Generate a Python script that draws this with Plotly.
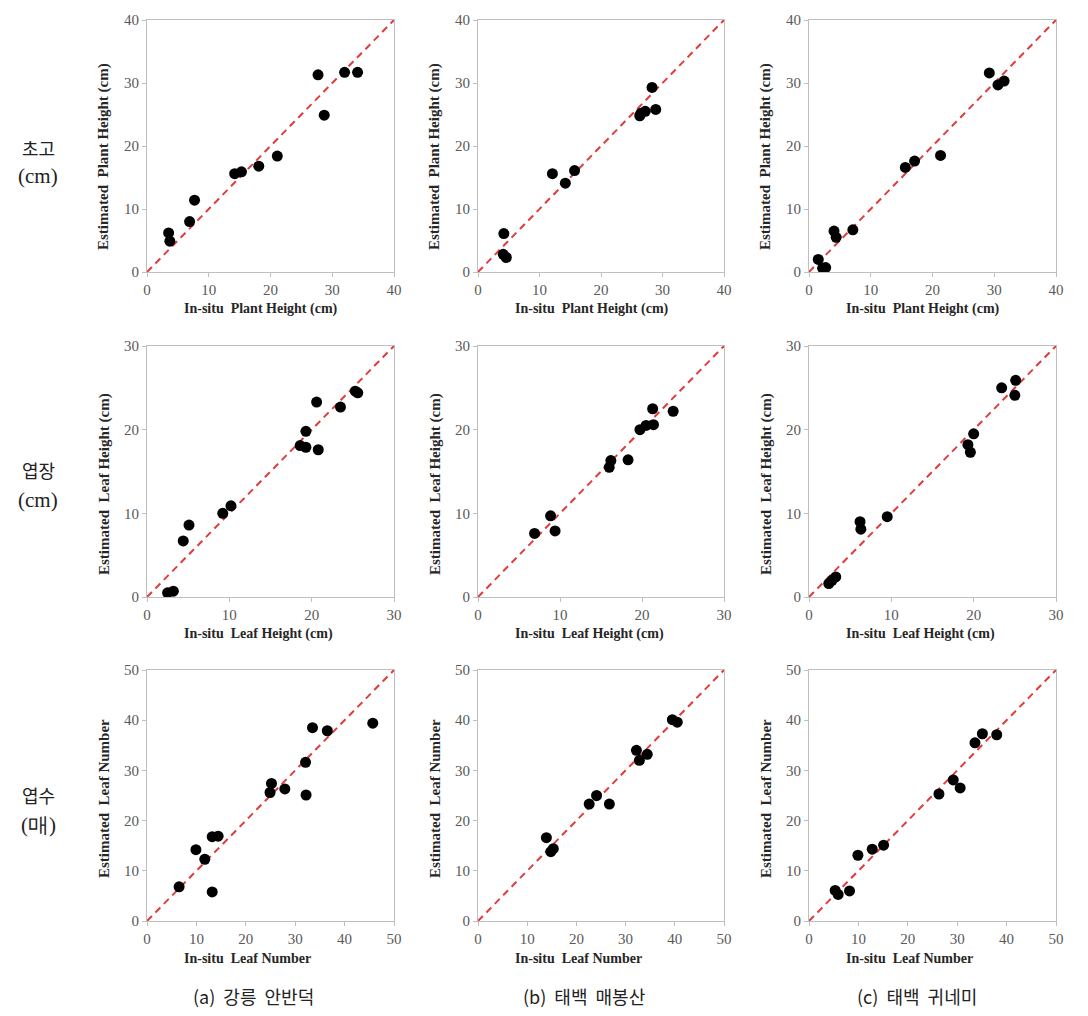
import plotly.graph_objects as go

W, H = 1088, 1016
OFF = 8  # page body margin offset

# ---------------- data ----------------
# Row 1: plant height (cm)
ph_a_x = [3.5, 3.7, 6.9, 7.7, 14.2, 15.3, 18.1, 21.1, 27.7, 28.7, 32.0, 34.1]
ph_a_y = [6.2, 4.9, 8.0, 11.4, 15.6, 15.9, 16.8, 18.4, 31.3, 24.9, 31.7, 31.7]
ph_b_x = [4.2, 4.1, 4.6, 12.1, 14.2, 15.7, 26.3, 27.2, 28.3, 28.9, 26.5]
ph_b_y = [6.1, 2.8, 2.3, 15.6, 14.1, 16.1, 24.8, 25.5, 29.3, 25.8, 25.2]
ph_c_x = [1.5, 2.2, 2.7, 4.05, 4.4, 7.1, 15.6, 17.1, 21.3, 29.2, 30.6, 31.6]
ph_c_y = [2.0, 0.6, 0.7, 6.5, 5.5, 6.7, 16.6, 17.6, 18.5, 31.6, 29.7, 30.3]

# Row 2: leaf height (cm)
lh_a_x = [2.5, 3.2, 4.4, 5.1, 9.2, 10.2, 18.6, 19.3, 19.3, 20.6, 20.8, 23.5, 25.3, 25.6]
lh_a_y = [0.5, 0.7, 6.7, 8.6, 10.0, 10.9, 18.1, 19.8, 17.9, 23.3, 17.6, 22.7, 24.6, 24.4]
lh_b_x = [6.9, 8.85, 9.4, 16.0, 16.2, 18.3, 19.75, 20.5, 21.3, 21.4, 23.8]
lh_b_y = [7.6, 9.7, 7.9, 15.5, 16.3, 16.4, 20.0, 20.5, 22.5, 20.6, 22.2]
lh_c_x = [2.4, 2.8, 3.25, 6.2, 6.3, 9.5, 19.3, 19.6, 20.0, 23.4, 25.1, 25.0]
lh_c_y = [1.6, 2.0, 2.4, 9.0, 8.1, 9.6, 18.2, 17.3, 19.5, 25.0, 25.9, 24.1]

# Row 3: leaf number
ln_a_x = [6.5, 9.9, 11.7, 13.2, 14.4, 13.2, 25.2, 24.9, 27.9, 32.1, 32.2, 33.5, 36.5, 45.7]
ln_a_y = [6.8, 14.2, 12.3, 16.8, 16.9, 5.8, 27.4, 25.6, 26.3, 31.6, 25.1, 38.5, 37.9, 39.4]
ln_b_x = [13.9, 14.8, 15.3, 22.6, 24.1, 26.7, 32.2, 32.8, 34.4, 39.5, 40.5]
ln_b_y = [16.6, 13.8, 14.4, 23.3, 25.0, 23.3, 34.0, 32.0, 33.2, 40.1, 39.6]
ln_c_x = [5.3, 5.9, 8.2, 9.9, 12.8, 15.1, 26.3, 29.2, 30.6, 33.6, 35.1, 38.0]
ln_c_y = [6.1, 5.3, 6.0, 13.1, 14.3, 15.1, 25.3, 28.1, 26.5, 35.5, 37.3, 37.1]

axis_max = [40, 30, 50]
x_titles = ["In-situ  Plant Height (cm)", "In-situ  Leaf Height (cm)", "In-situ  Leaf Number"]
y_titles = ["Estimated  Plant Height (cm)", "Estimated  Leaf Height (cm)", "Estimated  Leaf Number"]
row_labels = [["초고", "(cm)"], ["엽장", "(cm)"], ["엽수", "(매)"]]
col_labels = ["(a) 강릉 안반덕", "(b) 태백 매봉산", "(c) 태백 귀네미"]

data = [
    [(ph_a_x, ph_a_y), (ph_b_x, ph_b_y), (ph_c_x, ph_c_y)],
    [(lh_a_x, lh_a_y), (lh_b_x, lh_b_y), (lh_c_x, lh_c_y)],
    [(ln_a_x, ln_a_y), (ln_b_x, ln_b_y), (ln_c_x, ln_c_y)],
]

# ---------------- layout geometry (pixels, screen coords) ----------------
col_px = [(147, 394), (478, 724), (809, 1056)]
row_px = [(20, 272), (346, 597), (670, 921)]
ytitle_center = [157, 484, 799]
row_label_y = [(148, 176), (470, 500), (795, 825)]
col_label_x = [253, 584, 917]

SERIF = "Liberation Serif, Times New Roman, serif"
KFONT = "Noto Sans CJK KR, Liberation Serif, serif"
NB = "\u00a0"

fig = go.Figure()
layout = dict(
    width=W, height=H, margin=dict(l=0, r=0, t=0, b=0, autoexpand=False),
    paper_bgcolor="white", plot_bgcolor="white", showlegend=False,
)
annotations = []

def px2x(p):
    return (p - OFF) / W

def px2y(p):
    return 1 - (p - OFF) / H

for r in range(3):
    for c in range(3):
        idx = r * 3 + c + 1
        xa = "x" if idx == 1 else f"x{idx}"
        ya = "y" if idx == 1 else f"y{idx}"
        xs, ys = data[r][c]
        m = axis_max[r]
        fig.add_trace(go.Scatter(
            x=[0, m], y=[0, m], mode="lines", xaxis=xa, yaxis=ya,
            line=dict(color="#e03c3c", width=2, dash="7px,5px"), hoverinfo="skip"))
        fig.add_trace(go.Scatter(
            x=xs, y=ys, mode="markers", xaxis=xa, yaxis=ya,
            marker=dict(color="black", size=11)))
        x0, x1 = col_px[c]
        y0, y1 = row_px[r]
        axcommon = dict(
            range=[0, m], dtick=10, showgrid=False, zeroline=False, automargin=False,
            showline=True, linecolor="#bfbfbf", linewidth=1, mirror=True,
            ticks="outside", ticklen=4, tickcolor="#bfbfbf",
            tickfont=dict(family=SERIF, size=15, color="#595959"),
        )
        layout["xaxis" if idx == 1 else f"xaxis{idx}"] = dict(
            axcommon, domain=[px2x(x0), px2x(x1)], anchor=ya)
        layout["yaxis" if idx == 1 else f"yaxis{idx}"] = dict(
            axcommon, domain=[px2y(y1), px2y(y0)], anchor=xa)
        # x title
        annotations.append(dict(
            text=f"<b>{x_titles[r]}</b>", xref="paper", yref="paper",
            x=px2x(x0 + 35), y=px2y(y1 + 37), xanchor="left", yanchor="middle",
            showarrow=False, font=dict(family=SERIF, size=14, color="#262626")))
        # y title
        annotations.append(dict(
            text=f"<b>{y_titles[r]}</b>", xref="paper", yref="paper",
            x=px2x(x0 - 43), y=px2y(ytitle_center[r]), xanchor="center", yanchor="middle",
            textangle=-90, showarrow=False,
            font=dict(family=SERIF, size=15, color="#262626")))

for r in range(3):
    for k in range(2):
        annotations.append(dict(
            text=row_labels[r][k], xref="paper", yref="paper",
            x=px2x(38), y=px2y(row_label_y[r][k]), xanchor="center", yanchor="middle",
            showarrow=False,
            font=dict(family=KFONT if k == 0 else SERIF, size=18 if k == 0 else 21, color="#222")))

for c in range(3):
    lbl = col_labels[c].replace(" ", NB * 2)
    annotations.append(dict(
        text=lbl, xref="paper", yref="paper",
        x=px2x(col_label_x[c]), y=px2y(996), xanchor="center", yanchor="middle",
        showarrow=False, font=dict(family=KFONT, size=18, color="#222")))

layout["annotations"] = annotations
fig.update_layout(**layout)
fig.write_html("out.html")
